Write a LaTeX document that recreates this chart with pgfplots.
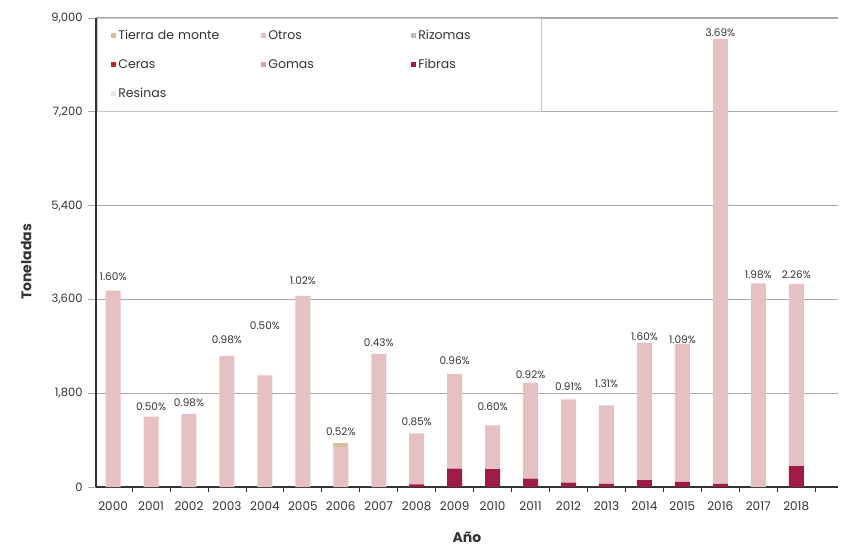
\documentclass[border=0pt]{standalone}
\usepackage{fontspec}
\setmainfont{Poppins}
\usepackage{pgfplots}
\pgfplotsset{compat=1.18}
\definecolor{otros}{HTML}{E6C0C2}
\definecolor{fibras}{HTML}{9E1B46}
\definecolor{ceras}{HTML}{C8202E}
\definecolor{gomas}{HTML}{D8A0B4}
\definecolor{rizomas}{HTML}{BDBDBD}
\definecolor{tierra}{HTML}{D4C19C}
\definecolor{resinas}{HTML}{E8E8E8}
\definecolor{gridc}{HTML}{A8A8A8}
\definecolor{txt}{HTML}{333333}
\begin{document}
\begin{tikzpicture}
\path[use as bounding box] (-96pt,-60pt) rectangle (752pt,487pt);
\begin{axis}[
  at={(0,0)}, anchor=south west,
  scale only axis, width=742pt, height=469pt,
  ybar stacked, bar width=15pt,
  xmin=1999.55, xmax=2019.1, ymin=0, ymax=9000,
  axis x line*=bottom, axis y line*=left,
  axis line style={line width=1.2pt, draw=txt},
  xtick={2000,...,2018},
  minor xtick={1999.5,2000.5,...,2018.5},
  major x tick style={draw=none},
  minor x tick style={draw=txt, line width=0.8pt},
  minor tick length=5pt,
  ytick={0,1800,3600,5400,7200,9000},
  major tick length=8pt,
  tick align=outside,
  y tick style={draw=gridc, line width=1pt},
  ymajorgrids, grid style={draw=gridc, line width=1.2pt},
  /pgf/number format/assume math mode=true,
  x tick label style={font=\fontsize{12}{14}\selectfont, text=txt, /pgf/number format/set thousands separator={}, yshift=-3pt},
  y tick label style={font=\fontsize{11.5}{13}\selectfont, text=txt, /pgf/number format/set thousands separator={,}, xshift=-2pt},
  scaled y ticks=false,
  ylabel={Toneladas},
  ylabel style={at={(axis description cs:-0.094,0.48)}, anchor=center, font=\bfseries\fontsize{14}{16}\selectfont, text=txt},
  xlabel={Año},
  xlabel style={at={(axis description cs:0.5,0)}, anchor=center, yshift=-50pt, font=\bfseries\fontsize{14}{16}\selectfont, text=txt},
  legend image code/.code={\fill[#1,draw=none] (0pt,-2.5pt) rectangle (5pt,2.5pt);},
  legend style={at={(0.0013,1)}, anchor=north west, draw=gray!45, line width=0.8pt, fill=white,
    font=\fontsize{12.5}{14}\selectfont, text=txt,
    /tikz/every even column/.append style={column sep=34pt},
    row sep=14pt, inner xsep=14pt, inner ysep=10pt,
    nodes={text width=107pt, align=left, inner sep=2pt}},
  legend columns=3,
  legend cell align=left,
]
\addlegendimage{fill=tierra}\addlegendentry{Tierra de monte}
\addlegendimage{fill=otros}\addlegendentry{Otros}
\addlegendimage{fill=rizomas}\addlegendentry{Rizomas}
\addlegendimage{fill=ceras}\addlegendentry{Ceras}
\addlegendimage{fill=gomas}\addlegendentry{Gomas}
\addlegendimage{fill=fibras}\addlegendentry{Fibras}
\addlegendimage{fill=resinas}\addlegendentry{Resinas}
% Fibras (bottom)
\addplot[forget plot, fill=fibras, draw=none] coordinates {
(2000,0) (2001,0) (2002,0) (2003,0) (2004,0) (2005,0) (2006,0) (2007,0)
(2008,50) (2009,355) (2010,345) (2011,160) (2012,83) (2013,58) (2014,134)
(2015,100) (2016,58) (2017,0) (2018,403)};
% Otros
\addplot[forget plot, fill=otros, draw=none] coordinates {
(2000,3767) (2001,1349) (2002,1401) (2003,2514) (2004,2144) (2005,3666) (2006,770) (2007,2553)
(2008,980) (2009,1814) (2010,839) (2011,1842) (2012,1600) (2013,1510) (2014,2636)
(2015,2645) (2016,8542) (2017,3910) (2018,3497)};
% Tierra de monte
\addplot[forget plot, fill=tierra, draw=none] coordinates {
(2000,0) (2001,0) (2002,0) (2003,0) (2004,0) (2005,0) (2006,80) (2007,0)
(2008,0) (2009,0) (2010,0) (2011,0) (2012,0) (2013,0) (2014,0)
(2015,0) (2016,0) (2017,0) (2018,0)};
\end{axis}
\begin{axis}[
  at={(0,0)}, anchor=south west,
  scale only axis, width=742pt, height=469pt,
  xmin=1999.55, xmax=2019.1, ymin=0, ymax=9000,
  hide axis,
]
\addplot[draw=none, mark=none, nodes near coords, point meta=explicit symbolic,
  every node near coord/.append style={anchor=center, font=\fontsize{10.5}{12}\selectfont, text=txt}]
coordinates {
(2000,4030)[1.60\%] (2001,1535)[0.50\%] (2002,1612)[0.98\%] (2003,2821)[0.98\%]
(2004,3090)[0.50\%] (2005,3959)[1.02\%] (2006,1068)[0.52\%] (2007,2770)[0.43\%]
(2008,1247)[0.85\%] (2009,2424)[0.96\%] (2010,1541)[0.60\%] (2011,2155)[0.92\%]
(2012,1925)[0.91\%] (2013,1977)[1.31\%] (2014,2885)[1.60\%] (2015,2821)[1.09\%]
(2016,8718)[3.69\%] (2017,4068)[1.98\%] (2018,4068)[2.26\%]};
\end{axis}
\end{tikzpicture}
\end{document}
